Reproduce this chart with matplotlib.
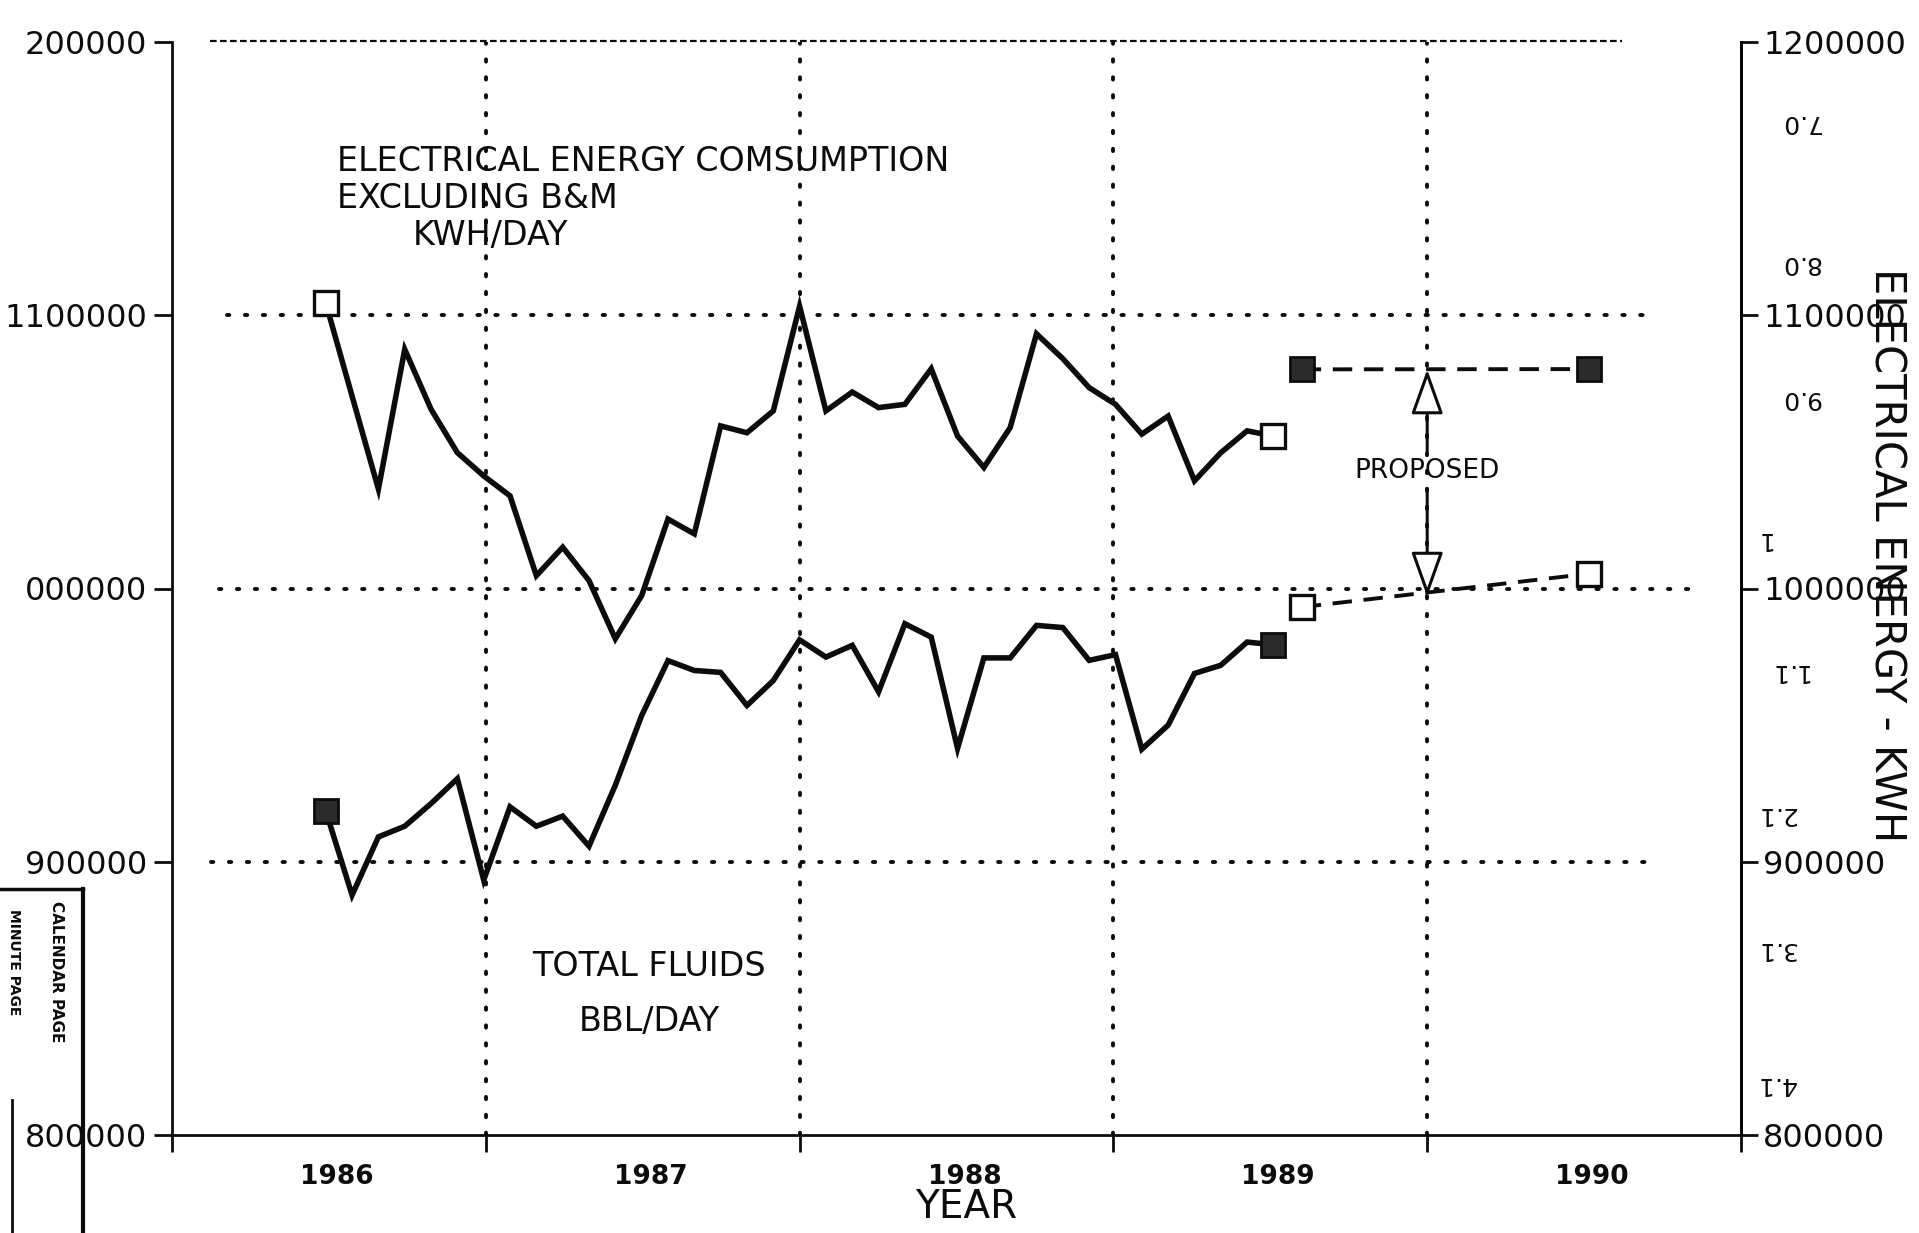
import matplotlib
matplotlib.use("Agg")
import matplotlib.pyplot as plt
import numpy as np

# ---------------- data ----------------
first_reading = 1986.49       # first monthly reading (mid 1986)
last_reading = 1989.51        # last monthly reading (mid 1989)
elec_kwh = [1104500, 1070400, 1036400, 1087500, 1065600, 1049700, 1041200, 1033900,
            1004700, 1015100, 1002900, 981600, 997400, 1025400, 1020000, 1059500,
            1057000, 1065000, 1103300, 1065000, 1071900, 1066200, 1067400, 1080400,
            1055800, 1044300, 1058900, 1093200, 1084100, 1073500, 1067400, 1056500,
            1063100, 1039400, 1049700, 1057700, 1055800]
fluids_bbl = [918600, 887800, 909100, 913000, 921300, 930400, 893300, 920100,
              913000, 916700, 905700, 928000, 953500, 973600, 970000, 969300,
              957200, 966300, 981200, 974900, 979200, 962200, 987100, 982200,
              941500, 974600, 974600, 986500, 985700, 973700, 975800, 941200,
              950000, 968900, 971900, 980400, 979400]
proposed_years = [1989.60, 1990.515]
proposed_elec = [1080200, 1080300]
proposed_fluids = [993200, 1005400]

year_labels = ["1986", "1987", "1988", "1989", "1990"]
left_tick_values = [800000, 900000, 1000000, 1100000, 1200000]
left_tick_labels = ["800000", "900000", "000000", "1100000", "200000"]
right_tick_labels = ["800000", "900000", "1000000", "1100000", "1200000"]
ghost_labels = ["0.7", "0.8", "0.9", "1", "1.1", "1.2", "1.3", "1.4"]

x_hist = np.linspace(first_reading, last_reading, len(elec_kwh))

# ---------------- figure ----------------
W, H = 1919, 1233
fig = plt.figure(figsize=(W / 100, H / 100), dpi=100)
fig.patch.set_facecolor("white")

def fx(px):
    return px / W

def fy(py):
    return 1 - py / H

ax = fig.add_axes([fx(172), fy(1135), fx(1741) - fx(172), fy(42) - fy(1135)])
ax.set_xlim(1986.0, 1991.0)
ax.set_ylim(800000, 1200000)

K = "#0c0c0c"
font = "DejaVu Sans"

# spines
for s in ["left", "right", "bottom"]:
    ax.spines[s].set_linewidth(2.0)
    ax.spines[s].set_color(K)
ax.spines["top"].set_visible(False)
ax.plot([1986.12, 1990.62], [1200500, 1200500], color=K, lw=1.6,
        linestyle=(0, (3, 1.5)), clip_on=False, zorder=2)

# grid (dotted)
dot = (0, (0.6, 4.0))
for yv, x0, x1 in [(900000, 0.025, 0.94), (1000000, 0.03, 0.97), (1100000, 0.035, 0.94)]:
    ax.axhline(yv, xmin=x0, xmax=x1, color=K, lw=2.8, linestyle=dot,
               dash_capstyle="round", zorder=1)
for xv in [1987, 1988, 1989, 1990]:
    ax.axvline(xv, color=K, lw=2.8, linestyle=dot, dash_capstyle="round", zorder=1)

# x ticks
ax.set_xticks([1986, 1987, 1988, 1989, 1990, 1991])
ax.set_xticklabels([])
ax.tick_params(axis="x", which="major", direction="out", length=12, width=2, color=K)
ax.set_xticks([y + 0.525 for y in range(1986, 1991)], minor=True)
ax.set_xticklabels(year_labels, minor=True, fontsize=19, fontweight="bold",
                   family=font, color=K)
ax.tick_params(axis="x", which="minor", length=0, pad=21)

# left y ticks
ax.set_yticks(left_tick_values)
ax.set_yticklabels(left_tick_labels, fontsize=23, family=font, color=K)
ax.tick_params(axis="y", direction="out", length=13, width=2, color=K, pad=5)

# right y axis
ax2 = ax.twinx()
ax2.set_ylim(ax.get_ylim())
ax2.set_yticks(left_tick_values)
ax2.set_yticklabels(right_tick_labels, fontsize=23, family=font, color=K)
ax2.tick_params(axis="y", direction="out", length=12, width=2, color=K, pad=4)
for s in ["left", "top", "bottom"]:
    ax2.spines[s].set_visible(False)
ax2.spines["right"].set_linewidth(2.0)

# historical lines
ax.plot(x_hist, elec_kwh, color=K, lw=4.0, solid_joinstyle="miter", zorder=3)
ax.plot(x_hist, fluids_bbl, color=K, lw=4.0, solid_joinstyle="miter", zorder=3)

ms = 17
ends = [0, len(elec_kwh) - 1]
ax.plot(x_hist[ends], [elec_kwh[i] for i in ends], linestyle="none", marker="s",
        ms=ms, mfc="white", mec=K, mew=2.4, zorder=4)
ax.plot(x_hist[ends], [fluids_bbl[i] for i in ends], linestyle="none", marker="s",
        ms=ms, mfc="#2b2b2b", mec=K, mew=2.0, zorder=4)

# proposed
ax.plot(proposed_years, proposed_elec, color=K, lw=2.8, linestyle=(0, (5, 3)),
        marker="s", ms=ms, mfc="#2b2b2b", mec=K, mew=2.0, zorder=4)
ax.plot(proposed_years, proposed_fluids, color=K, lw=2.8, linestyle=(0, (5, 3)),
        marker="s", ms=ms, mfc="white", mec=K, mew=2.4, zorder=4)

arrow_x = 1990.0
ax.text(arrow_x, 1043100, "PROPOSED", ha="center", va="center", fontsize=19,
        family=font, color=K, zorder=5)
arrowprops = dict(arrowstyle="-|>,head_length=1.4,head_width=0.5", fc="white",
                  ec=K, lw=2.2, mutation_scale=20, shrinkA=0, shrinkB=0)
ax.annotate("", xy=(arrow_x, proposed_elec[0]), xytext=(arrow_x, 1050300),
            arrowprops=arrowprops, zorder=5)
ax.annotate("", xy=(arrow_x, 997000), xytext=(arrow_x, 1035900),
            arrowprops=arrowprops, zorder=5)

# annotations
txt = dict(family=font, color=K, fontsize=24, va="baseline", ha="left")
fig.text(fx(337), fy(171), "ELECTRICAL ENERGY COMSUMPTION", **txt)
fig.text(fx(337), fy(208), "EXCLUDING B&M", **txt)
fig.text(fx(413), fy(245), "KWH/DAY", **txt)
fig.text(fx(649), fy(967), "TOTAL FLUIDS", family=font, color=K, fontsize=24,
         ha="center", va="center")
fig.text(fx(649), fy(1021), "BBL/DAY", family=font, color=K, fontsize=24,
         ha="center", va="center")
fig.text(fx(966), fy(1207), "YEAR", family=font, color=K, fontsize=28,
         ha="center", va="center")

# right-edge axis title
fig.text(fx(1886), fy(555), "ELECTRICAL ENERGY - KWH", family=font, color=K,
         fontsize=30, rotation=270, ha="center", va="center")

# bleed-through numbers from the reverse page
ghost_pos = [(1800, 122), (1800, 263), (1800, 398), (1763, 539), (1788, 671),
             (1776, 814), (1776, 949), (1776, 1084)]
for lab, (px, py) in zip(ghost_labels, ghost_pos):
    fig.text(fx(px), fy(py), lab[::-1], family=font, color=K, fontsize=18,
             rotation=180, ha="center", va="center")

# stamp box in lower-left corner
fig.add_artist(plt.Line2D([fx(0), fx(83)], [fy(889), fy(889)], color=K, lw=2.5))
fig.add_artist(plt.Line2D([fx(83), fx(83)], [fy(889), fy(1233)], color=K, lw=3.0))
fig.add_artist(plt.Line2D([fx(12), fx(12)], [fy(1100), fy(1233)], color=K, lw=2.0))
fig.text(fx(56), fy(972), "CALENDAR PAGE", family=font, color=K, fontsize=11,
         fontweight="bold", rotation=270, ha="center", va="center")
fig.text(fx(14), fy(962), "MINUTE PAGE", family=font, color=K, fontsize=10,
         fontweight="bold", rotation=270, ha="center", va="center")

fig.savefig("out.png", dpi=100, facecolor="white")
